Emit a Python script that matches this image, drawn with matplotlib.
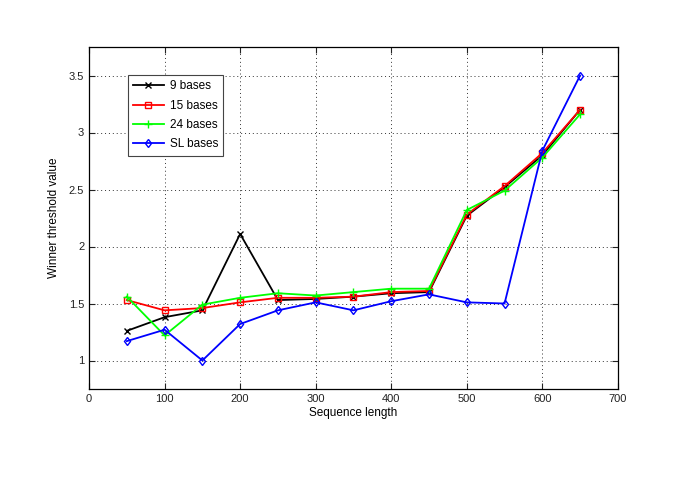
import matplotlib
matplotlib.use('Agg')
import matplotlib.pyplot as plt

plt.rcParams['font.family'] = ['Liberation Sans', 'DejaVu Sans']

seq_len = [50, 100, 150, 200, 250, 300, 350, 400, 450, 500, 550, 600, 650]
bases_9 = [1.26, 1.38, 1.44, 2.11, 1.53, 1.54, 1.56, 1.59, 1.60, 2.27, 2.52, 2.80, 3.20]
bases_15 = [1.53, 1.44, 1.46, 1.51, 1.55, 1.55, 1.56, 1.60, 1.61, 2.28, 2.53, 2.82, 3.20]
bases_24 = [1.56, 1.22, 1.49, 1.55, 1.59, 1.57, 1.60, 1.63, 1.63, 2.32, 2.49, 2.78, 3.16]
bases_sl = [1.17, 1.27, 1.00, 1.32, 1.44, 1.51, 1.44, 1.52, 1.58, 1.51, 1.50, 2.84, 3.50]

fig = plt.figure(figsize=(6.85, 5), dpi=100)
ax = fig.add_axes([0.130, 0.222, 0.772, 0.684])

ax.plot(seq_len, bases_9, color='black', marker='x', markersize=5, linewidth=1.3, label='9 bases')
ax.plot(seq_len, bases_15, color='#ff0000', marker='s', markersize=5, markerfacecolor='none',
        linewidth=1.3, label='15 bases')
ax.plot(seq_len, bases_24, color='#00ff00', marker='+', markersize=6, linewidth=1.3, label='24 bases')
ax.plot(seq_len, bases_sl, color='#0000ff', marker='d', markersize=4.5, markerfacecolor='none',
        linewidth=1.3, label='SL bases')

ax.set_xlim(0, 700)
ax.set_ylim(0.75, 3.75)
ax.set_xticks(range(0, 701, 100))
ax.set_yticks([1, 1.5, 2, 2.5, 3, 3.5])
ax.set_yticklabels(['1', '1.5', '2', '2.5', '3', '3.5'])
ax.grid(True, linestyle=(0, (1, 3)), color='#333333', linewidth=0.7)
ax.tick_params(direction='in', top=True, right=True, labelsize=8, length=4, colors='#222222')
for s in ax.spines.values():
    s.set_linewidth(0.9)

ax.set_xlabel('Sequence length', fontsize=8.5, labelpad=2)
ax.set_ylabel('Winner threshold value', fontsize=8.5, labelpad=6)

leg = ax.legend(loc='upper left', bbox_to_anchor=(0.062, 0.935), fontsize=8.5,
                fancybox=False, framealpha=1, edgecolor='#444444',
                handlelength=2.6, handletextpad=0.5, borderpad=0.45, labelspacing=0.62)
leg.get_frame().set_linewidth(0.8)

fig.savefig('out.png', dpi=100)
